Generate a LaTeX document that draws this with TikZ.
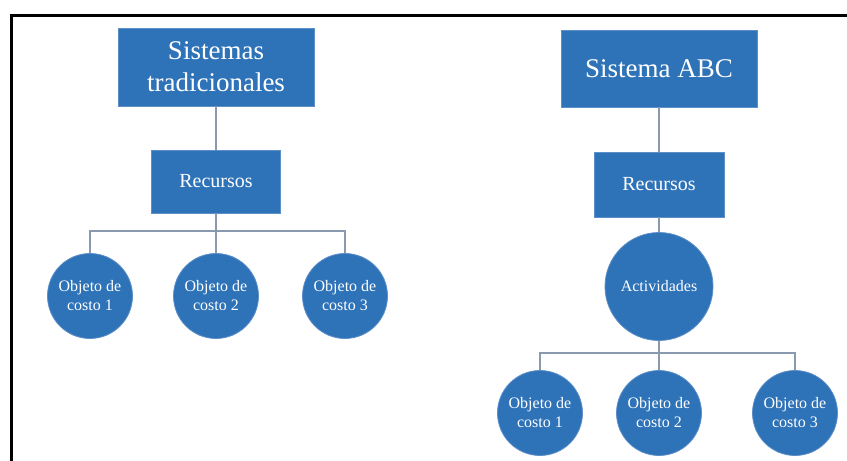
\documentclass[tikz,border=0pt]{standalone}
\usepackage{fontspec}
\setmainfont{Liberation Serif}
\definecolor{boxblue}{HTML}{2E72B8}
\definecolor{edgeblue}{HTML}{5D8FC8}
\definecolor{linkgray}{HTML}{8A9AAE}
\begin{document}
\begin{tikzpicture}[x=1pt,y=-1pt,
  box/.style={rectangle, fill=boxblue, draw=edgeblue, line width=0.8pt, text=white, align=center, inner sep=0pt},
  disc/.style={circle, fill=boxblue, draw=edgeblue, line width=0.8pt, text=white, align=center, inner sep=0pt},
  titletext/.style={font=\fontsize{27}{32}\selectfont},
  midtext/.style={font=\fontsize{20}{24}\selectfont},
  smalltext/.style={font=\fontsize{16}{19}\selectfont},
  link/.style={draw=linkgray, line width=1.4pt},
  frame/.style={draw=black, line width=3pt}]
\useasboundingbox (0,0) rectangle (847,461);
\fill[white] (0,0) rectangle (847,461);
% outer frame (top and left edges)
\draw[frame] (11.5,461) -- (11.5,15) -- (847,15);

% traditional costing system
\node[box, titletext, minimum width=196, minimum height=78] (t1) at (216,67) {Sistemas\\tradicionales};
\node[box, midtext, minimum width=129, minimum height=63] (r1) at (216,181.5) {Recursos};
\node[disc, smalltext, minimum size=85] (o11) at (90,296) {Objeto de\\costo 1};
\node[disc, smalltext, minimum size=85] (o12) at (216,296) {Objeto de\\costo 2};
\node[disc, smalltext, minimum size=85] (o13) at (345,296) {Objeto de\\costo 3};
\coordinate (b1) at (216,231);

% activity based costing system
\node[box, titletext, minimum width=196, minimum height=77] (t2) at (659,68.5) {Sistema ABC};
\node[box, midtext, minimum width=130, minimum height=65] (r2) at (659,184.5) {Recursos};
\node[disc, smalltext, minimum size=108] (act) at (659,286.5) {Actividades};
\node[disc, smalltext, minimum size=85] (o21) at (540,413) {Objeto de\\costo 1};
\node[disc, smalltext, minimum size=85] (o22) at (659,413) {Objeto de\\costo 2};
\node[disc, smalltext, minimum size=85] (o23) at (795,413) {Objeto de\\costo 3};
\coordinate (b2) at (659,353);

% connectors
\draw[link] (t1.south) -- (r1.north);
\draw[link] (r1.south) -- (b1);
\draw[link] (b1) -| (o11.north);
\draw[link] (b1) -| (o13.north);
\draw[link] (b1) -- (o12.north);
\draw[link] (t2.south) -- (r2.north);
\draw[link] (r2.south) -- (act.north);
\draw[link] (act.south) -- (b2);
\draw[link] (b2) -| (o21.north);
\draw[link] (b2) -| (o23.north);
\draw[link] (b2) -- (o22.north);
\end{tikzpicture}
\end{document}
